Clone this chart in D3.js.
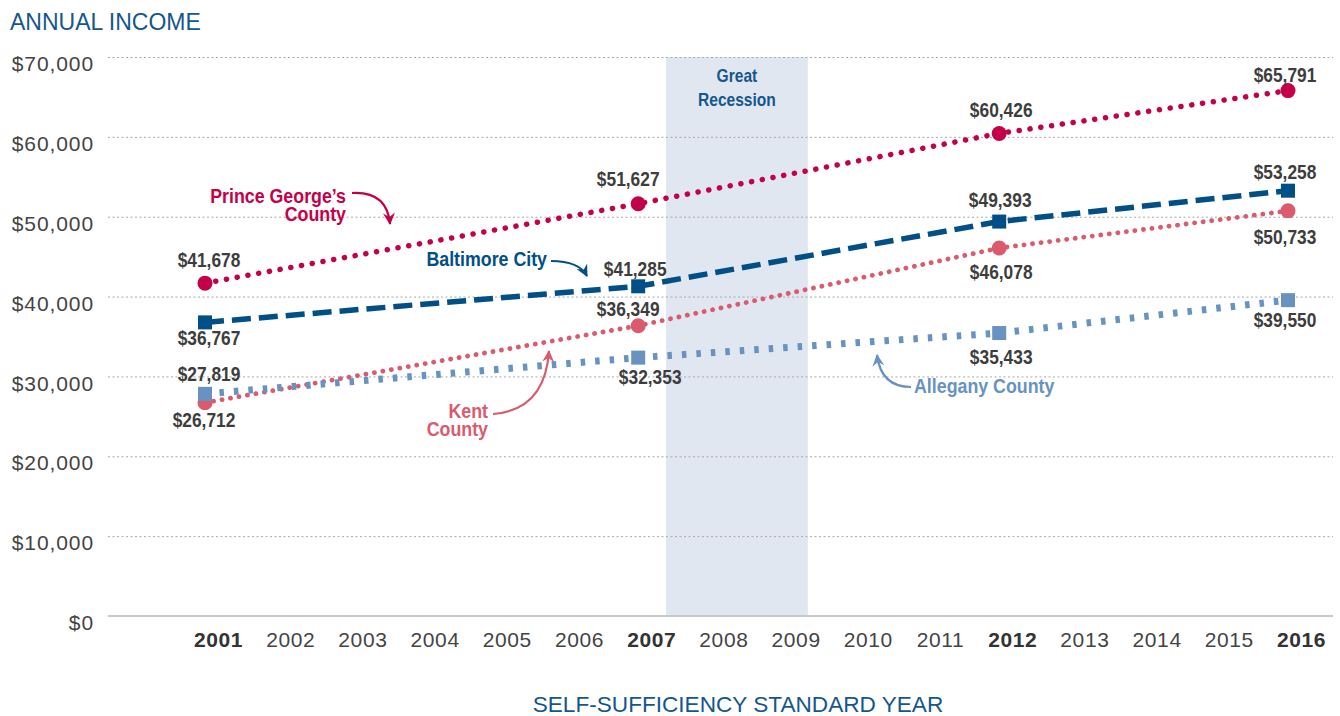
<!DOCTYPE html>
<html>
<head>
<meta charset="utf-8">
<script src="https://cdn.jsdelivr.net/npm/d3@7/dist/d3.min.js"></script>
<style>
  body { margin: 0; background: #fff; }
  svg { display: block; }
</style>
</head>
<body>
<div id="chart"></div>
<script>
// data
var years = [2001, 2007, 2012, 2016];
var princeGeorges = [41678, 51627, 60426, 65791];
var baltimoreCity = [36767, 41285, 49393, 53258];
var kentCounty = [26712, 36349, 46078, 50733];
var alleganyCounty = [27819, 32353, 35433, 39550];
var tickYears = d3.range(2001, 2017);
var boldYears = [2001, 2007, 2012, 2016];
var yTicks = [0, 10000, 20000, 30000, 40000, 50000, 60000, 70000];
var recession = [2007.385, 2009.35];

var width = 1340, height = 716;
var bold = "'Liberation Sans', Arial, sans-serif";
var plain = "'Liberation Sans', Arial, sans-serif";
var squeeze = 0.89; // bold labels are a condensed face in the original
var textDark = "#3d3d3d";
var titleBlue = "#15578c";

var x = d3.scaleLinear().domain([2001, 2016]).range([205, 1288]);
var y = d3.scaleLinear().domain([0, 70000]).range([616, 57]);

var svg = d3.select("#chart").append("svg")
    .attr("width", width)
    .attr("height", height);

// places a condensed bold text (squeezed horizontally)
function narrowText(parent, px, py, size, color, anchor) {
    return parent.append("text")
        .attr("transform", "translate(" + px + "," + py + ") scale(" + squeeze + ",1)")
        .attr("text-anchor", anchor)
        .attr("font-family", bold)
        .attr("font-weight", "bold")
        .attr("font-size", size + "px")
        .attr("fill", color);
}

// series styles + label offsets (dx, dy to baseline, from marker)
var series = [
    {name: "pg", values: princeGeorges, color: "#c4004b", width: 5.5, dash: "0.1,10.8", cap: "round", shape: "circle",
     offsets: [[4, -16], [-10, -18], [2, -16], [-3, -9]]},
    {name: "balt", values: baltimoreCity, color: "#004f86", width: 5.5, dash: "19,8", cap: "butt", shape: "square",
     offsets: [[4, 23], [-3, -10], [1, -15], [-3, -12]]},
    {name: "kent", values: kentCounty, color: "#d95b6d", width: 4.8, dash: "0.1,8.5", cap: "round", shape: "circle",
     offsets: [[-1, 24], [-10, -10], [2, 31], [-3, 33]]},
    {name: "alleg", values: alleganyCounty, color: "#6792c1", width: 7, dash: "4.5,10", cap: "butt", shape: "square",
     offsets: [[4, -13], [12, 26], [2, 31], [-3, 27]]}
];

// recession band
svg.append("rect")
    .attr("x", x(recession[0]))
    .attr("y", y(70000))
    .attr("width", x(recession[1]) - x(recession[0]))
    .attr("height", y(0) - y(70000))
    .attr("fill", "#e1e7f0");

var bandMid = (x(recession[0]) + x(recession[1])) / 2;
var rt = narrowText(svg, bandMid, 82, 17.5, titleBlue, "middle");
rt.append("tspan").attr("x", 0).attr("y", 0).text("Great");
rt.append("tspan").attr("x", 0).attr("y", 24).text("Recession");

// grid
svg.selectAll(".grid")
    .data(yTicks.filter(function(d) { return d > 0; }))
    .enter().append("line")
    .attr("x1", 108)
    .attr("x2", 1333)
    .attr("y1", function(d) { return y(d) + 0.5; })
    .attr("y2", function(d) { return y(d) + 0.5; })
    .attr("stroke", "#a8a8a8")
    .attr("stroke-width", 1)
    .attr("stroke-dasharray", "2,2.5");

svg.append("line")
    .attr("x1", 108)
    .attr("x2", 1333)
    .attr("y1", y(0))
    .attr("y2", y(0))
    .attr("stroke", "#c8c8c8")
    .attr("stroke-width", 2);

// y axis labels
var yAxis = d3.axisLeft(y)
    .tickValues(yTicks)
    .tickSize(0)
    .tickPadding(0)
    .tickFormat(function(d) { return "$" + d3.format(",")(d); });
var gy = svg.append("g").attr("transform", "translate(94,0)").call(yAxis);
gy.select(".domain").remove();
gy.selectAll("text")
    .attr("font-family", plain)
    .attr("font-size", "21px")
    .attr("letter-spacing", "0.9px")
    .attr("fill", "#444")
    .attr("dy", "0.65em");

// x axis labels
var xAxis = d3.axisBottom(x)
    .tickValues(tickYears)
    .tickSize(0)
    .tickPadding(0)
    .tickFormat(d3.format("d"));
var gx = svg.append("g").attr("transform", "translate(13,632)").call(xAxis);
gx.select(".domain").remove();
gx.selectAll("text")
    .attr("font-family", plain)
    .attr("font-size", "21px")
    .attr("letter-spacing", "0.6px")
    .attr("dy", "0.7em")
    .attr("font-weight", function(d) { return boldYears.indexOf(d) >= 0 ? "900" : "normal"; })
    .attr("fill", function(d) { return boldYears.indexOf(d) >= 0 ? "#333" : "#444"; });

// titles
svg.append("text")
    .attr("x", 10)
    .attr("y", 30)
    .attr("font-family", plain)
    .attr("font-size", "23px")
    .attr("fill", titleBlue)
    .text("ANNUAL INCOME");

svg.append("text")
    .attr("x", 738)
    .attr("y", 712)
    .attr("text-anchor", "middle")
    .attr("font-family", plain)
    .attr("font-size", "22.6px")
    .attr("fill", titleBlue)
    .text("SELF-SUFFICIENCY STANDARD YEAR");

// lines
var line = d3.line()
    .x(function(d, i) { return x(years[i]); })
    .y(function(d) { return y(d); });

series.forEach(function(s) {
    svg.append("path")
        .datum(s.values)
        .attr("d", line)
        .attr("fill", "none")
        .attr("stroke", s.color)
        .attr("stroke-width", s.width)
        .attr("stroke-dasharray", s.dash)
        .attr("stroke-linecap", s.cap);
});

// markers + value labels
series.forEach(function(s) {
    var g = svg.append("g");
    if (s.shape == "circle") {
        g.selectAll("circle").data(s.values).enter().append("circle")
            .attr("cx", function(d, i) { return x(years[i]); })
            .attr("cy", function(d) { return y(d); })
            .attr("r", 7.5)
            .attr("fill", s.color);
    } else {
        g.selectAll("rect").data(s.values).enter().append("rect")
            .attr("x", function(d, i) { return x(years[i]) - 7; })
            .attr("y", function(d) { return y(d) - 7; })
            .attr("width", 14)
            .attr("height", 14)
            .attr("fill", s.color);
    }
    s.values.forEach(function(d, i) {
        narrowText(g, x(years[i]) + s.offsets[i][0], y(d) + s.offsets[i][1], 19.5, textDark, "middle")
            .text("$" + d3.format(",")(d));
    });
});

// series annotations
var defs = svg.append("defs");
series.forEach(function(s) {
    defs.append("marker")
        .attr("id", "head-" + s.name)
        .attr("markerUnits", "userSpaceOnUse")
        .attr("viewBox", "-12 -7 14 14")
        .attr("refX", 0)
        .attr("refY", 0)
        .attr("markerWidth", 14)
        .attr("markerHeight", 14)
        .attr("orient", "auto")
        .append("path")
        .attr("d", "M1,0 L-11,-6 L-7,0 L-11,6 Z")
        .attr("fill", s.color);
});

var notes = [
    {name: "pg", color: "#c4004b", lines: ["Prince George\u2019s", "County"], x: 346, y: 203, anchor: "end",
     arrow: "M352,193 Q387,191 390,224"},
    {name: "balt", color: "#004f86", lines: ["Baltimore City"], x: 547, y: 266, anchor: "end",
     arrow: "M551,261 Q579,261 587,276"},
    {name: "kent", color: "#d95b6d", lines: ["Kent", "County"], x: 488, y: 418, anchor: "end",
     arrow: "M493,414 Q545,410 549,351"},
    {name: "alleg", color: "#6792c1", lines: ["Allegany County"], x: 914, y: 393, anchor: "start",
     arrow: "M911,387 Q881,387 877,355"}
];

notes.forEach(function(n) {
    svg.append("path")
        .attr("d", n.arrow)
        .attr("fill", "none")
        .attr("stroke", n.color)
        .attr("stroke-width", 2.2)
        .attr("marker-end", "url(#head-" + n.name + ")");
    var t = narrowText(svg, n.x, n.y, 20, n.color, n.anchor);
    n.lines.forEach(function(s, i) {
        t.append("tspan").attr("x", 0).attr("y", i * 18).text(s);
    });
});
</script>
</body>
</html>
